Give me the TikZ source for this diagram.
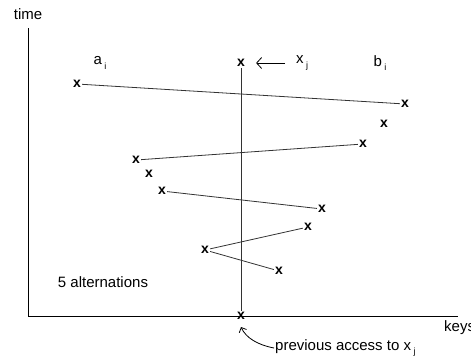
\documentclass[tikz,border=0pt]{standalone}
\usepackage{fontspec}
\setmainfont{Liberation Sans}
\usetikzlibrary{arrows.meta}
\begin{document}
\begin{tikzpicture}[x=1pt,y=-1pt,
  mk/.style={inner sep=1pt,font=\fontsize{14}{14}\selectfont\bfseries},
  lbl/.style={inner sep=1pt,font=\fontsize{15}{15}\selectfont},
  seg/.style={draw=black!80,line width=0.8pt},
  axis/.style={draw=black,line width=0.9pt}]
\useasboundingbox (0,0) rectangle (471,360);
% axes
\coordinate (o) at (28,316);
\coordinate (ytop) at (28,28);
\coordinate (xend) at (458,316);
\draw[axis] (ytop) -- (o) -- (xend);
\node[lbl] (time) at (28,14) {time};
\node[lbl,anchor=west] (keys) at (443,328) {keys};
% marks
\node[mk] (m1) at (77,84) {x};
\node[mk] (top) at (241,63) {x};
\node[mk] (m2) at (405,104) {x};
\node[mk] (m3) at (384,124) {x};
\node[mk] (m4) at (363,144) {x};
\node[mk] (m5) at (136,160) {x};
\node[mk] (m6) at (149,174) {x};
\node[mk] (m7) at (162,191) {x};
\node[mk] (m8) at (322,209) {x};
\node[mk] (m9) at (308,227) {x};
\node[mk] (m10) at (205,250) {x};
\node[mk] (m11) at (279,271) {x};
\node[mk] (bot) at (241,316) {x};
% vertical line of x_j
\draw[seg] (top) -- (bot);
% alternation segments
\draw[seg] (m1) -- (m2);
\draw[seg] (m5) -- (m4);
\draw[seg] (m7) -- (m8);
\draw[seg] (m10) -- (m9);
\draw[seg] (m10) -- (m11);
% labels
\node[lbl] (ai) at (100,63) {a\,\raisebox{-0.6ex}{\fontsize{9}{9}\selectfont i}};
\node[lbl] (bi) at (380,63) {b\,\raisebox{-0.6ex}{\fontsize{9}{9}\selectfont i}};
\node[lbl] (xj) at (302,63) {x\,\raisebox{-0.6ex}{\fontsize{9}{9}\selectfont j}};
\coordinate (arrtail) at (285,63);
\draw[line width=0.8pt,shorten >=10pt,-{Straight Barb[length=5pt,width=11pt]}] (arrtail) -- (top);
\node[lbl] (alt) at (103,282) {5 alternations};
\node[lbl,anchor=west] (prev) at (274,348) {previous access to x\,\raisebox{-0.6ex}{\fontsize{9}{9}\selectfont j}};
\coordinate (curvehead) at (241,327);
\draw[line width=0.8pt,-{Straight Barb[length=4pt,width=8pt]}] (prev.west) .. controls (258,345) and (246,338) .. (curvehead);
\end{tikzpicture}
\end{document}
